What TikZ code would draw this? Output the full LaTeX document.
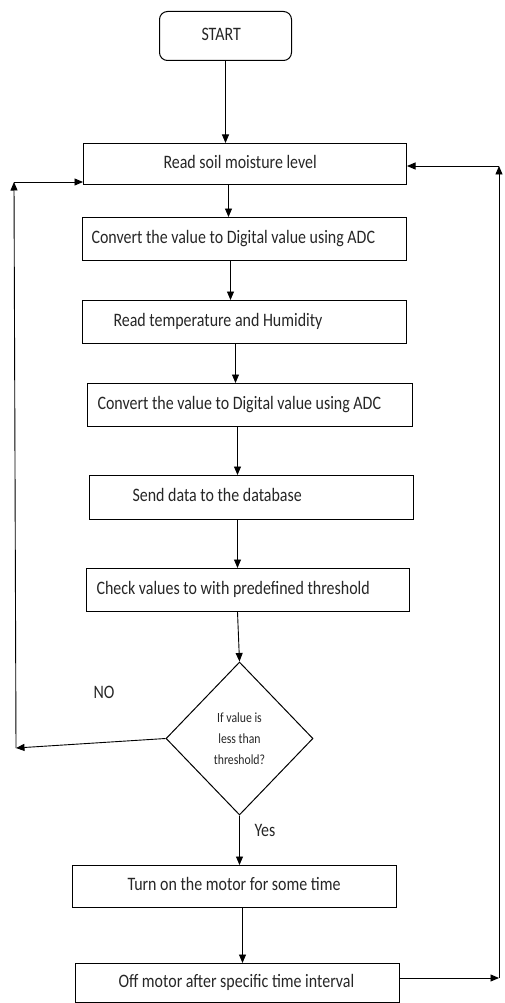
\documentclass[tikz,border=0pt]{standalone}
\usepackage{fontspec}
\setmainfont{Carlito}[FakeStretch=0.84]
\usetikzlibrary{arrows.meta,shapes.geometric}
% fixed-width line of text with a left indent, so boxes keep their size
\newcommand\boxline[3]{\makebox[#1pt][l]{\hspace*{#2pt}\strut #3}}
\begin{document}
\begin{tikzpicture}[x=1pt,y=-1pt,
  every node/.style={font=\fontsize{19}{21}\selectfont, text=black!85},
  stepbox/.style={draw, rectangle, inner sep=0pt, anchor=north west, line width=1pt},
  flow/.style={draw, line width=0.9pt, -{Triangle[length=8.5pt,width=7pt]}}]
\useasboundingbox (0,0) rectangle (504,1003);

% process steps
\node[stepbox, rounded corners=8pt, minimum width=132pt, minimum height=49pt] (start) at (159,11) {\boxline{132}{42}{START}};
\node[stepbox, minimum width=323pt, minimum height=41pt] (soil) at (83,143) {\boxline{323}{80}{Read soil moisture level}};
\node[stepbox, minimum width=324pt, minimum height=43pt] (conv1) at (82,217) {\boxline{324}{9}{Convert the value to Digital value using ADC}};
\node[stepbox, minimum width=324pt, minimum height=43pt] (temp) at (82,300) {\boxline{324}{31}{Read temperature and Humidity}};
\node[stepbox, minimum width=325pt, minimum height=43pt] (conv2) at (87,383) {\boxline{325}{10}{Convert the value to Digital value using ADC}};
\node[stepbox, minimum width=324pt, minimum height=44pt] (send) at (89,475) {\boxline{324}{43}{Send data to the database}};
\node[stepbox, minimum width=323pt, minimum height=43pt] (check) at (86,568) {\boxline{323}{10}{Check values to with predefined threshold}};
\node[draw, diamond, minimum width=147pt, minimum height=153pt, inner sep=0pt, align=center,
      line width=1pt, font=\fontsize{14}{21}\selectfont] (dec) at (239.5,738.5) {If value is\\less than\\threshold?};
\node[stepbox, minimum width=324pt, minimum height=42pt] (turn) at (72,865) {\boxline{324}{55}{Turn on the motor for some time}};
\node[stepbox, minimum width=324pt, minimum height=39pt] (off) at (75,963) {\boxline{324}{43}{Off motor after specific time interval}};

% branch labels
\node (no) at (104,692) {NO};
\node (yes) at (265,830) {Yes};

% main flow
\draw[flow] (start.south) -- (start.south |- soil.north);
\draw[flow] ([xshift=-16.5pt]soil.south) -- ([xshift=-16.5pt]soil.south |- conv1.north);
\draw[flow] ([xshift=-14pt]conv1.south) -- ([xshift=-14pt]conv1.south |- temp.north);
\draw[flow] ([xshift=-9pt]temp.south) -- ([xshift=-9pt]temp.south |- conv2.north);
\draw[flow] ([xshift=-12.5pt]conv2.south) -- ([xshift=-12.5pt]conv2.south |- send.north);
\draw[flow] ([xshift=-14pt]send.south) -- ([xshift=-14pt]send.south |- check.north);
\draw[flow] ([xshift=-10.5pt]check.south) -- (dec.north);
\draw[flow] (dec.south) -- (dec.south |- turn.north);
\draw[flow] ([xshift=8pt]turn.south) -- ([xshift=8pt]turn.south |- off.north);

% NO branch back to the first reading
\coordinate (l1) at (16,748);
\coordinate (l2) at (14,182);
\draw[flow] (dec.west) -- (l1);
\draw[flow] (l1) -- (l2);
\draw[flow] (l2) -- (l2 -| soil.west);

% loop back after the motor is switched off
\coordinate (r1) at (499,978);
\coordinate (r2) at (499,166);
\draw[flow] (off.east |- r1) -- (r1);
\draw[flow] (r1) -- (r2);
\draw[flow] (r2) -- (r2 -| soil.east);
\end{tikzpicture}
\end{document}
